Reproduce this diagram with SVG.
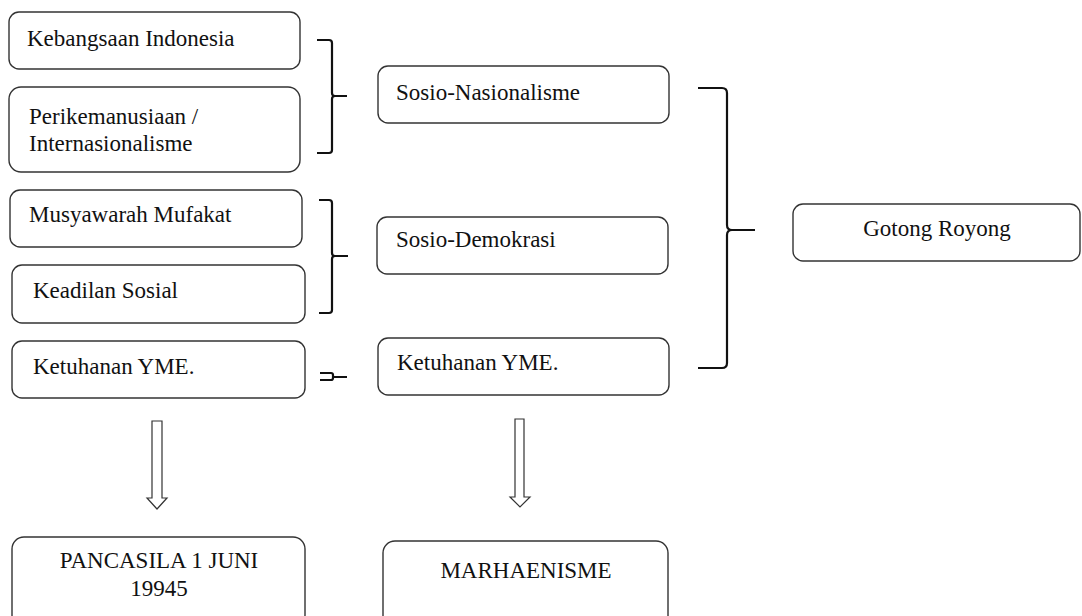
<svg xmlns="http://www.w3.org/2000/svg" width="1082" height="616" viewBox="0 0 1082 616">
<style>
.box{fill:#fff;stroke:#333;stroke-width:1.4}
.t{font-family:'Times New Roman',Times,'Liberation Serif','Noto Serif',serif;font-size:23px;fill:#111}
.c{text-anchor:middle}
.br{fill:none;stroke:#111;stroke-width:2.2}
.ar{fill:#fff;stroke:#333;stroke-width:1.2}
</style>
<rect width="1082" height="616" fill="#fff"/>
<g id="n1"><rect class="box" x="9" y="12" width="291" height="57" rx="10"/><text class="t" x="27" y="46">Kebangsaan Indonesia</text></g>
<g id="n2"><rect class="box" x="9" y="87" width="291" height="85" rx="12"/><text class="t" x="29" y="124">Perikemanusiaan /</text><text class="t" x="29" y="151">Internasionalisme</text></g>
<g id="n3"><rect class="box" x="10" y="190" width="292" height="57" rx="10"/><text class="t" x="29" y="222">Musyawarah Mufakat</text></g>
<g id="n4"><rect class="box" x="12" y="265" width="293" height="58" rx="10"/><text class="t" x="33" y="298">Keadilan Sosial</text></g>
<g id="n5"><rect class="box" x="12" y="341" width="293" height="57" rx="10"/><text class="t" x="33" y="374">Ketuhanan YME.</text></g>
<g id="n6"><rect class="box" x="378" y="66" width="291" height="57" rx="10"/><text class="t" x="396" y="100">Sosio-Nasionalisme</text></g>
<g id="n7"><rect class="box" x="377" y="217" width="291" height="57" rx="10"/><text class="t" x="396" y="247">Sosio-Demokrasi</text></g>
<g id="n8"><rect class="box" x="378" y="338" width="291" height="57" rx="10"/><text class="t" x="397" y="370">Ketuhanan YME.</text></g>
<g id="n9"><rect class="box" x="793" y="204" width="287" height="57" rx="10"/><text class="t c" x="937" y="236">Gotong Royong</text></g>
<g id="n10"><rect class="box" x="12" y="537" width="293" height="90" rx="12"/><text class="t c" x="159" y="568">PANCASILA 1 JUNI</text><text class="t c" x="159" y="596">19945</text></g>
<g id="n11"><rect class="box" x="383" y="541" width="285" height="90" rx="12"/><text class="t c" x="526" y="578">MARHAENISME</text></g>
<g id="connectors">
<path class="br" d="M317 40 H329 Q332 40 332 43 V93 Q332 96 335 96 H347 M335 96 Q332 96 332 99 V150 Q332 153 329 153 H317"/>
<path class="br" d="M319 200 H329 Q332 200 332 203 V253 Q332 256 335 256 H348 M335 256 Q332 256 332 259 V310 Q332 313 329 313 H319"/>
<path class="br" d="M320 373 H331 Q333 373 333 375 V378 Q333 380 331 380 H320 M333 377 H347"/>
<path class="br" d="M698 88 H722 Q727 88 727 93 V225 Q727 230 732 230 H755 M732 230 Q727 230 727 235 V363 Q727 368 722 368 H698"/>
<path class="ar" d="M152 421 H162 V498 H167 L157 509 L147 498 H152 Z"/>
<path class="ar" d="M515 419 H524 V497 H530 L520 507 L510 497 H515 Z"/>
</g>
</svg>
